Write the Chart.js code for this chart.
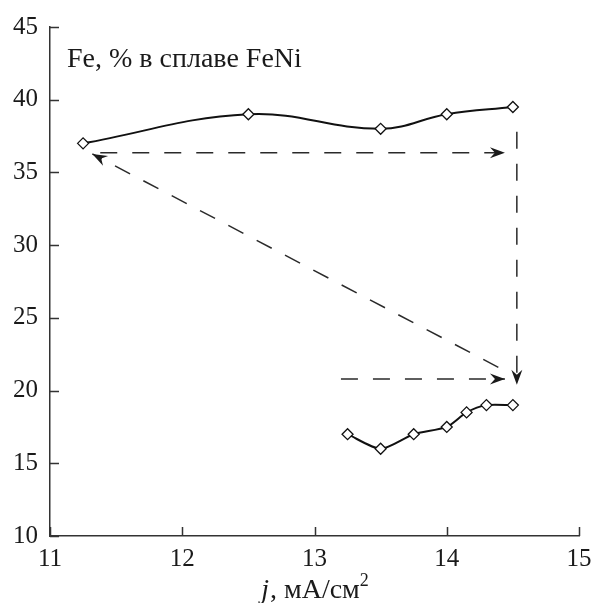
<!DOCTYPE html>
<html><head><meta charset="utf-8">
<script src="https://cdn.jsdelivr.net/npm/chart.js@4/dist/chart.umd.min.js"></script>
<style>html,body{margin:0;padding:0;background:#fff}#wrap{width:593px;height:603px;position:relative}</style>
</head><body><div id="wrap"><canvas id="c"></canvas></div>
<script>
// ---- data ----
const upperJ  = [11.25, 12.5, 13.5, 14.0, 14.5];
const upperFe = [37, 39, 38, 39, 39.5];
const lowerJ  = [13.25, 13.5, 13.75, 14.0, 14.15, 14.3, 14.5];
const lowerFe = [17, 16, 17, 17.5, 18.5, 19, 19];
const xTickValues = [11, 12, 13, 14, 15];
const yTickValues = [10, 15, 20, 25, 30, 35, 40, 45];
const arrowTopJ  = [11.38, 14.44], arrowTopFe  = [36.35, 36.35];
const arrowDownJ = [14.53, 14.53], arrowDownFe = [37.8, 20.4];
const arrowDiagJ = [14.39, 11.32], arrowDiagFe = [21.6, 36.27];
const arrowLowJ  = [13.2, 14.44],  arrowLowFe  = [20.8, 20.8];
const innerTitle = 'Fe, % в сплаве FeNi';
const xTitleParts = ['j', ', мА/см', '2'];

const pts = (xs, ys) => xs.map((x, i) => ({x: x, y: ys[i]}));
const SERIF = '"Liberation Serif", "DejaVu Serif", serif';

function arrowDs(xs, ys) {
  return {
    data: pts(xs, ys), arrow: true, showLine: true,
    borderColor: '#2a2a2a', borderWidth: 1.5, borderDash: [17, 15],
    pointRadius: 0, pointHoverRadius: 0, tension: 0, fill: false
  };
}

const decor = {
  id: 'decor',
  afterDatasetsDraw(chart) {
    const ctx = chart.ctx;
    chart.data.datasets.forEach((ds, i) => {
      if (!ds.arrow) return;
      const d = chart.getDatasetMeta(i).data;
      const a = d[d.length - 2], b = d[d.length - 1];
      const ang = Math.atan2(b.y - a.y, b.x - a.x);
      ctx.save();
      ctx.translate(b.x, b.y);
      ctx.rotate(ang);
      ctx.fillStyle = '#1a1a1a';
      ctx.beginPath();
      ctx.moveTo(0, 0);
      ctx.lineTo(-15, -5.5);
      ctx.lineTo(-10, 0);
      ctx.lineTo(-15, 5.5);
      ctx.closePath();
      ctx.fill();
      ctx.restore();
    });
  },
  afterDraw(chart) {
    const ctx = chart.ctx, ca = chart.chartArea;
    const xs = chart.scales.x, ys = chart.scales.y;
    ctx.save();
    ctx.strokeStyle = '#333';
    ctx.lineWidth = 1.5;
    ctx.beginPath();
    xTickValues.forEach(v => {
      const px = Math.round(xs.getPixelForValue(v)) + 0.5;
      ctx.moveTo(px, ca.bottom);
      ctx.lineTo(px, ca.bottom - 9);
    });
    yTickValues.forEach(v => {
      const py = Math.round(ys.getPixelForValue(v)) + 0.5;
      ctx.moveTo(ca.left, py);
      ctx.lineTo(ca.left + 9, py);
    });
    ctx.stroke();
    // inner title
    ctx.fillStyle = '#1a1a1a';
    ctx.textBaseline = 'alphabetic';
    ctx.textAlign = 'left';
    ctx.font = '28px ' + SERIF;
    ctx.fillText(innerTitle, ca.left + 17, ca.top + 40);
    // x axis title
    const f1 = 'italic 28px ' + SERIF, f2 = '28px ' + SERIF, f3 = '18px ' + SERIF;
    ctx.font = f1; const w1 = ctx.measureText(xTitleParts[0]).width;
    ctx.font = f2; const w2 = ctx.measureText(xTitleParts[1]).width;
    ctx.font = f3; const w3 = ctx.measureText(xTitleParts[2]).width;
    let x0 = (ca.left + ca.right) / 2 - (w1 + w2 + w3) / 2;
    const base = ca.bottom + 62;
    ctx.font = f1; ctx.fillText(xTitleParts[0], x0, base);
    ctx.font = f2; ctx.fillText(xTitleParts[1], x0 + w1 + 1, base);
    ctx.font = f3; ctx.fillText(xTitleParts[2], x0 + w1 + w2 + 1, base - 12);
    ctx.restore();
  }
};

new Chart(document.getElementById('c'), {
  type: 'scatter',
  data: {
    datasets: [
      { data: pts(upperJ, upperFe), showLine: true, borderColor: '#111', borderWidth: 2,
        tension: 0.4, pointStyle: 'rectRot', pointRadius: 5.5, pointBackgroundColor: '#fff',
        pointBorderColor: '#111', pointBorderWidth: 1.3, fill: false },
      { data: pts(lowerJ, lowerFe), showLine: true, borderColor: '#111', borderWidth: 2,
        tension: 0.25, pointStyle: 'rectRot', pointRadius: 5.5, pointBackgroundColor: '#fff',
        pointBorderColor: '#111', pointBorderWidth: 1.3, fill: false },
      arrowDs(arrowTopJ, arrowTopFe),
      arrowDs(arrowDownJ, arrowDownFe),
      arrowDs(arrowDiagJ, arrowDiagFe),
      arrowDs(arrowLowJ, arrowLowFe)
    ]
  },
  options: {
    responsive: true, maintainAspectRatio: false, animation: false,
    layout: { padding: { top: 27, right: 14, left: 0, bottom: 0 } },
    plugins: { legend: { display: false }, tooltip: { enabled: false } },
    scales: {
      x: {
        type: 'linear', min: 11, max: 15,
        afterBuildTicks: s => { s.ticks = xTickValues.map(v => ({value: v})); },
        afterFit: s => { s.height = 67; s.paddingLeft = 0; s.paddingRight = 0; },
        grid: { display: false, drawTicks: false },
        border: { display: true, color: '#333', width: 1.5 },
        ticks: { color: '#1a1a1a', font: { family: SERIF, size: 25 }, padding: 8, maxRotation: 0 }
      },
      y: {
        type: 'linear', min: 10, max: 45,
        afterBuildTicks: s => { s.ticks = yTickValues.map(v => ({value: v})); },
        afterFit: s => { s.width = 50; s.paddingTop = 0; s.paddingBottom = 0; },
        grid: { display: false, drawTicks: false },
        border: { display: true, color: '#333', width: 1.5 },
        ticks: { color: '#1a1a1a', font: { family: SERIF, size: 25 }, padding: 12 }
      }
    }
  },
  plugins: [decor]
});
</script>
</body></html>
